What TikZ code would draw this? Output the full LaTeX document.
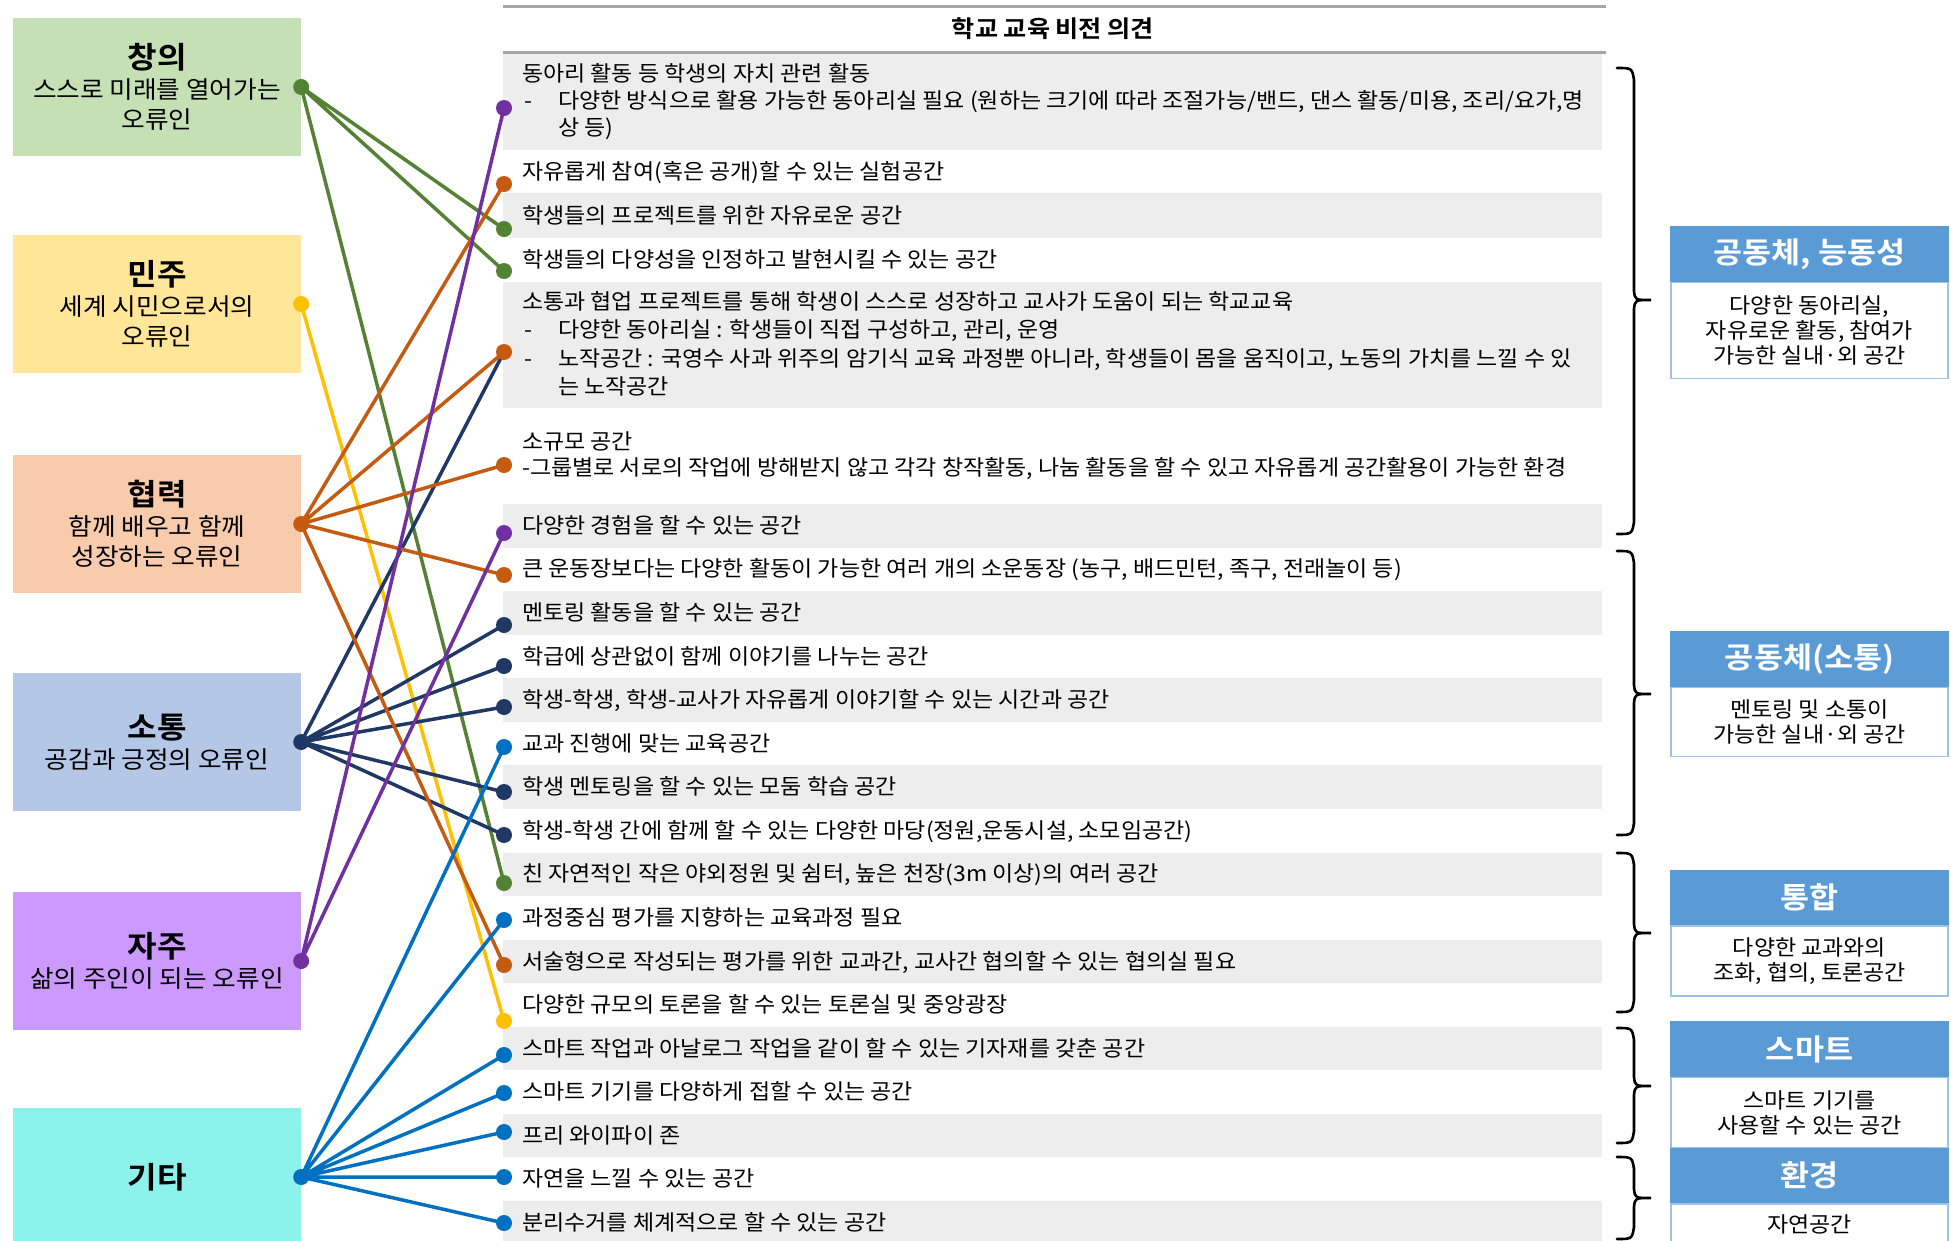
\documentclass[tikz,border=0pt]{standalone}
\usepackage{fontspec}
\setmainfont{Noto Sans CJK KR}[BoldFont={Noto Sans CJK KR Bold},FakeStretch=1.07]
\usepackage{tikz}
\usetikzlibrary{positioning}
\definecolor{ChangFill}{RGB}{197,224,180}
\definecolor{ChangLine}{RGB}{84,130,53}
\definecolor{MinjuFill}{RGB}{255,230,153}
\definecolor{MinjuLine}{RGB}{255,192,0}
\definecolor{HyeopFill}{RGB}{248,203,173}
\definecolor{HyeopLine}{RGB}{197,90,17}
\definecolor{SotongFill}{RGB}{180,199,231}
\definecolor{SotongLine}{RGB}{32,56,100}
\definecolor{JajuFill}{RGB}{204,153,255}
\definecolor{JajuLine}{RGB}{112,48,160}
\definecolor{GitaFill}{RGB}{141,242,236}
\definecolor{GitaLine}{RGB}{0,112,192}
\definecolor{CardBlue}{RGB}{91,155,213}
\definecolor{CardEdge}{RGB}{157,195,230}
\definecolor{RowGray}{RGB}{237,237,237}
\definecolor{RuleGray}{RGB}{166,166,166}
\newcommand{\boxtitle}[1]{{\bfseries\fontsize{30}{30}\selectfont #1}}
\tikzset{
  valuebox/.style={minimum width=288pt,minimum height=138pt,inner sep=0pt,align=center,font=\fontsize{24}{30}\selectfont},
  rowtext/.style={anchor=west,inner sep=0pt,text height=16.8pt,text depth=1.5pt,font=\fontsize{21.5}{25}\selectfont},
  wire/.style={line width=3.5pt},
  cardhead/.style={fill=CardBlue,draw=CardBlue,line width=1.5pt,minimum width=277pt,minimum height=54pt,inner sep=0pt,text=white,font=\bfseries\fontsize{29.5}{32}\selectfont},
  cardbody/.style={draw=CardEdge,line width=1.5pt,minimum width=277pt,inner sep=0pt,align=center,font=\fontsize{21.5}{25}\selectfont},
  bracket/.style={line width=2.6pt,line cap=round}
}
\begin{document}
\begin{tikzpicture}[x=1pt,y=-1pt]
\useasboundingbox (0,0) rectangle (1951,1240);
\clip (0,0) rectangle (1951,1240);
\fill[white] (0,0) rectangle (1951,1240);
% 가치 상자
\node[valuebox,fill=ChangFill] (chang) at (157,87) {\boxtitle{창의}\\스스로 미래를 열어가는\\오류인};
\node[valuebox,fill=MinjuFill] (minju) at (157,304) {\boxtitle{민주}\\세계 시민으로서의\\오류인};
\node[valuebox,fill=HyeopFill] (hyeop) at (157,524) {\boxtitle{협력}\\함께 배우고 함께\\성장하는 오류인};
\node[valuebox,fill=SotongFill] (sotong) at (157,742) {\boxtitle{소통}\\공감과 긍정의 오류인};
\node[valuebox,fill=JajuFill] (jaju) at (157,961) {\boxtitle{자주}\\삶의 주인이 되는 오류인};
\node[valuebox,fill=GitaFill] (gita) at (157,1177) {\boxtitle{기타}};
% 표
\draw[RuleGray,line width=3pt] (503,6)--(1606,6);
\node[font=\bfseries\fontsize{23.5}{28}\selectfont] (head) at (1053,29) {학교 교육 비전 의견};
\draw[RuleGray,line width=3pt] (503,52.5)--(1606,52.5);
\fill[RowGray] (503,54) rectangle (1602,150);
\fill[RowGray] (503,193) rectangle (1602,238);
\fill[RowGray] (503,282) rectangle (1602,408);
\fill[RowGray] (503,504) rectangle (1602,547.6);
\fill[RowGray] (503,591.1) rectangle (1602,634.7);
\fill[RowGray] (503,678.2) rectangle (1602,721.8);
\fill[RowGray] (503,765.4) rectangle (1602,808.9);
\fill[RowGray] (503,852.5) rectangle (1602,896.1);
\fill[RowGray] (503,939.6) rectangle (1602,983.2);
\fill[RowGray] (503,1026.7) rectangle (1602,1070.3);
\fill[RowGray] (503,1113.8) rectangle (1602,1157.4);
\fill[RowGray] (503,1201) rectangle (1602,1244.6);
\node[rowtext] (r1a) at (522,74) {동아리 활동 등 학생의 자치 관련 활동};
\node[rowtext] (r1b) at (524,101) {-};
\node[rowtext] (r1c) at (558,101) {다양한 방식으로 활용 가능한 동아리실 필요 (원하는 크기에 따라 조절가능/밴드, 댄스 활동/미용, 조리/요가,명};
\node[rowtext] (r1d) at (558,128) {상 등)};
\node[rowtext] (r2) at (522,171.5) {자유롭게 참여(혹은 공개)할 수 있는 실험공간};
\node[rowtext] (r3) at (522,215.5) {학생들의 프로젝트를 위한 자유로운 공간};
\node[rowtext] (r4) at (522,260) {학생들의 다양성을 인정하고 발현시킬 수 있는 공간};
\node[rowtext] (r5a) at (522,302) {소통과 협업 프로젝트를 통해 학생이 스스로 성장하고 교사가 도움이 되는 학교교육};
\node[rowtext] (r5b) at (524,330) {-};
\node[rowtext] (r5c) at (558,330) {다양한 동아리실 : 학생들이 직접 구성하고, 관리, 운영};
\node[rowtext] (r5d) at (524,359) {-};
\node[rowtext] (r5e) at (558,359) {노작공간 : 국영수 사과 위주의 암기식 교육 과정뿐 아니라, 학생들이 몸을 움직이고, 노동의 가치를 느낄 수 있};
\node[rowtext] (r5f) at (558,387) {는 노작공간};
\node[rowtext] (r6a) at (522,442) {소규모 공간};
\node[rowtext] (r6b) at (522,468) {-그룹별로 서로의 작업에 방해받지 않고 각각 창작활동, 나눔 활동을 할 수 있고 자유롭게 공간활용이 가능한 환경};
\node[rowtext] (r7) at (522,525.8) {다양한 경험을 할 수 있는 공간};
\node[rowtext] (r8) at (522,569.3) {큰 운동장보다는 다양한 활동이 가능한 여러 개의 소운동장 (농구, 배드민턴, 족구, 전래놀이 등)};
\node[rowtext] (r9) at (522,612.9) {멘토링 활동을 할 수 있는 공간};
\node[rowtext] (r10) at (522,656.5) {학급에 상관없이 함께 이야기를 나누는 공간};
\node[rowtext] (r11) at (522,700) {학생-학생, 학생-교사가 자유롭게 이야기할 수 있는 시간과 공간};
\node[rowtext] (r12) at (522,743.6) {교과 진행에 맞는 교육공간};
\node[rowtext] (r13) at (522,787.2) {학생 멘토링을 할 수 있는 모둠 학습 공간};
\node[rowtext] (r14) at (522,830.7) {학생-학생 간에 함께 할 수 있는 다양한 마당(정원,운동시설, 소모임공간)};
\node[rowtext] (r15) at (522,874.3) {친 자연적인 작은 야외정원 및 쉼터, 높은 천장(3m 이상)의 여러 공간};
\node[rowtext] (r16) at (522,917.9) {과정중심 평가를 지향하는 교육과정 필요};
\node[rowtext] (r17) at (522,961.4) {서술형으로 작성되는 평가를 위한 교과간, 교사간 협의할 수 있는 협의실 필요};
\node[rowtext] (r18) at (522,1005) {다양한 규모의 토론을 할 수 있는 토론실 및 중앙광장};
\node[rowtext] (r19) at (522,1048.5) {스마트 작업과 아날로그 작업을 같이 할 수 있는 기자재를 갖춘 공간};
\node[rowtext] (r20) at (522,1092.1) {스마트 기기를 다양하게 접할 수 있는 공간};
\node[rowtext] (r21) at (522,1135.7) {프리 와이파이 존};
\node[rowtext] (r22) at (522,1179.2) {자연을 느낄 수 있는 공간};
\node[rowtext] (r23) at (522,1222.8) {분리수거를 체계적으로 할 수 있는 공간};
% 연결점
\coordinate (p1) at (504,108);
\coordinate (p2) at (504,184);
\coordinate (p3) at (504,229);
\coordinate (p4) at (504,271);
\coordinate (p5) at (504,352);
\coordinate (p6) at (504,465);
\coordinate (p7) at (504,533);
\coordinate (p8) at (504,575);
\coordinate (p9) at (504,625);
\coordinate (p10) at (504,666);
\coordinate (p11) at (504,707);
\coordinate (p12) at (504,747);
\coordinate (p13) at (504,792);
\coordinate (p14) at (504,835);
\coordinate (p15) at (504,883);
\coordinate (p16) at (504,920);
\coordinate (p17) at (504,965);
\coordinate (p18) at (504,1021);
\coordinate (p19) at (504,1055);
\coordinate (p20) at (504,1093);
\coordinate (p21) at (504,1132);
\coordinate (p22) at (504,1177);
\coordinate (p23) at (504,1223);
% 연결선
\draw[wire,ChangLine] (chang.east)--(p3) (chang.east)--(p4) (chang.east)--(p15);
\draw[wire,MinjuLine] (minju.east)--(p18);
\draw[wire,SotongLine] (sotong.east)--(p5) (sotong.east)--(p9) (sotong.east)--(p10) (sotong.east)--(p11) (sotong.east)--(p13) (sotong.east)--(p14);
\draw[wire,HyeopLine] (hyeop.east)--(p2) (hyeop.east)--(p5) (hyeop.east)--(p6) (hyeop.east)--(p8) (hyeop.east)--(p17);
\draw[wire,JajuLine] (jaju.east)--(p1) (jaju.east)--(p7);
\draw[wire,GitaLine] (gita.east)--(p12) (gita.east)--(p16) (gita.east)--(p19) (gita.east)--(p20) (gita.east)--(p21) (gita.east)--(p22) (gita.east)--(p23);
\fill[ChangLine] (chang.east) circle (8pt) (p3) circle (8pt) (p4) circle (8pt) (p15) circle (8pt);
\fill[MinjuLine] (minju.east) circle (8pt) (p18) circle (8pt);
\fill[SotongLine] (sotong.east) circle (8pt) (p9) circle (8pt) (p10) circle (8pt) (p11) circle (8pt) (p13) circle (8pt) (p14) circle (8pt);
\fill[HyeopLine] (hyeop.east) circle (8pt) (p2) circle (8pt) (p5) circle (8pt) (p6) circle (8pt) (p8) circle (8pt) (p17) circle (8pt);
\fill[JajuLine] (jaju.east) circle (8pt) (p1) circle (8pt) (p7) circle (8pt);
\fill[GitaLine] (gita.east) circle (8pt) (p12) circle (8pt) (p16) circle (8pt) (p19) circle (8pt) (p20) circle (8pt) (p21) circle (8pt) (p22) circle (8pt) (p23) circle (8pt);
% 묶음 괄호
\draw[bracket] (1617,68) .. controls (1632,68) .. (1634,80) -- (1634,291) .. controls (1635,300) .. (1651,300) .. controls (1635,300) .. (1634,309) -- (1634,522) .. controls (1632,534) .. (1617,534);
\draw[bracket] (1617,551) .. controls (1632,551) .. (1634,563) -- (1634,685) .. controls (1635,694) .. (1651,694) .. controls (1635,694) .. (1634,703) -- (1634,823) .. controls (1632,835) .. (1617,835);
\draw[bracket] (1617,853) .. controls (1632,853) .. (1634,865) -- (1634,924) .. controls (1635,933) .. (1651,933) .. controls (1635,933) .. (1634,942) -- (1634,1000) .. controls (1632,1012) .. (1617,1012);
\draw[bracket] (1617,1028) .. controls (1632,1028) .. (1634,1040) -- (1634,1077) .. controls (1635,1086) .. (1651,1086) .. controls (1635,1086) .. (1634,1095) -- (1634,1131) .. controls (1632,1143) .. (1617,1143);
\draw[bracket] (1617,1157) .. controls (1632,1157) .. (1634,1169) -- (1634,1189) .. controls (1635,1198) .. (1651,1198) .. controls (1635,1198) .. (1634,1207) -- (1634,1227) .. controls (1632,1239) .. (1617,1239);
% 요약 카드
\node[cardhead] (card1h) at (1809.5,254) {공동체, 능동성};
\node[cardbody,minimum height=96pt,below=0pt of card1h] (card1b) {다양한 동아리실,\\자유로운 활동, 참여가\\가능한 실내·외 공간};
\node[cardhead] (card2h) at (1809.5,659) {공동체(소통)};
\node[cardbody,minimum height=69pt,below=0pt of card2h] (card2b) {멘토링 및 소통이\\가능한 실내·외 공간};
\node[cardhead] (card3h) at (1809.5,897.5) {통합};
\node[cardbody,minimum height=70pt,below=0pt of card3h] (card3b) {다양한 교과와의\\조화, 협의, 토론공간};
\node[cardhead] (card4h) at (1809.5,1049) {스마트};
\node[cardbody,minimum height=70pt,below=0pt of card4h] (card4b) {스마트 기기를\\사용할 수 있는 공간};
\node[cardhead] (card5h) at (1809.5,1175.5) {환경};
\node[cardbody,minimum height=40pt,below=0pt of card5h] (card5b) {자연공간};
\end{tikzpicture}
\end{document}
